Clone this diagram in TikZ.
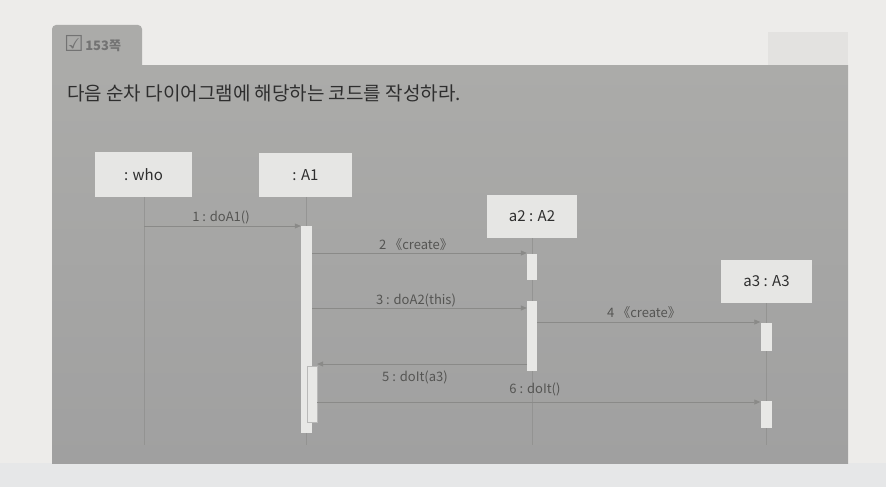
\documentclass[tikz,border=0pt]{standalone}
\usepackage{fontspec}
\setmainfont{Noto Sans CJK KR}
\newfontfamily\symfont{DejaVu Sans}
\usetikzlibrary{arrows.meta}
\definecolor{pagebg}{HTML}{EDECEA}
\definecolor{pagebot}{HTML}{E6E7E8}
\definecolor{paneltop}{HTML}{ABABA9}
\definecolor{panelbot}{HTML}{A0A0A0}
\definecolor{boxfill}{HTML}{E6E6E4}
\definecolor{barfill}{HTML}{E8E8E6}
\definecolor{linecol}{HTML}{8A8A88}
\definecolor{txtdark}{HTML}{2E2E2E}
\definecolor{txtmsg}{HTML}{555553}
\tikzset{
  objbox/.style={fill=boxfill, inner sep=0pt, text=txtdark, font=\fontsize{15}{17}\selectfont},
  actbar/.style={fill=barfill, inner sep=0pt, minimum width=10.5pt},
  lifeline/.style={draw=linecol, line width=0.5pt, opacity=0.6},
  msg/.style={draw=linecol, line width=0.6pt, -{Triangle[length=6pt,width=5pt]}},
  msglabel/.style={text=txtmsg, font=\fontsize{13}{15}\selectfont, inner sep=0pt}
}
\begin{document}
\begin{tikzpicture}[x=1pt,y=-1pt]
\useasboundingbox (0,0) rectangle (886,487);
% page
\fill[pagebg] (0,0) rectangle (886,487);
\fill[pagebot] (0,463) rectangle (886,487);
\fill[black, opacity=0.04] (768,32) rectangle (848,66);
% tab and panel
\fill[paneltop, rounded corners=4pt] (52,25) rectangle (142,90);
\shade[top color=paneltop, bottom color=panelbot] (52,66) rectangle (848,463);
% tab text
\node[anchor=west, inner sep=0pt, text=black!55] (tabicon) at (64,43) {\symfont\fontsize{22}{22}\selectfont ☑};
\node[anchor=west, inner sep=0pt, text=black!55, font=\fontsize{13}{15}\selectfont\bfseries] (tabtxt) at ([xshift=1pt,yshift=-3pt]tabicon.east) {153쪽};
% title
\node[anchor=west, inner sep=0pt, text=txtdark, font=\fontsize{19}{22}\selectfont] (title) at (67,93) {다음 순차 다이어그램에 해당하는 코드를 작성하라.};
% objects
\node[objbox, minimum width=97pt, minimum height=45pt] (who) at (143.5,174.5) {: who};
\node[objbox, minimum width=93pt, minimum height=44pt] (A1) at (305.5,175) {: A1};
\node[objbox, minimum width=90pt, minimum height=43pt] (a2) at (532,216.5) {a2 : A2};
\node[objbox, minimum width=91pt, minimum height=43pt] (a3) at (766.5,281.5) {a3 : A3};
% lifeline ends
\coordinate (whoend) at (144,445);
\coordinate (A1end) at (306,445);
\coordinate (a2end) at (532,445);
\coordinate (a3end) at (766,445);
\draw[lifeline] (who.south -| whoend) -- (whoend);
\draw[lifeline] (A1.south -| A1end) -- (A1end);
\draw[lifeline] (a2.south -| a2end) -- (a2end);
\draw[lifeline] (a3.south -| a3end) -- (a3end);
% activation bars
\node[actbar, minimum width=11pt, minimum height=207pt] (A1bar) at (306.5,329.5) {};
\node[actbar, minimum width=10pt, minimum height=56pt, draw=linecol!60, line width=0.3pt] (A1bar2) at (312,394) {};
\node[actbar, minimum width=10pt, minimum height=26pt] (a2bar1) at (532,267) {};
\node[actbar, minimum width=10pt, minimum height=70pt] (a2bar2) at (532,336) {};
\node[actbar, minimum width=11pt, minimum height=28pt] (a3bar1) at (766,337) {};
\node[actbar, minimum width=11pt, minimum height=27pt] (a3bar2) at (766,414.5) {};
% messages
\coordinate (m1s) at (144,226);
\draw[msg] (m1s) -- (m1s -| A1bar.west);
\coordinate (m2s) at (312,253);
\draw[msg] (m2s) -- (m2s -| a2bar1.west);
\coordinate (m3s) at (312,308);
\draw[msg] (m3s) -- (m3s -| a2bar2.west);
\coordinate (m4s) at (537,322);
\draw[msg] (m4s) -- (m4s -| a3bar1.west);
\coordinate (m5s) at (527,364);
\draw[msg] (m5s) -- (m5s -| A1bar2.east);
\coordinate (m6s) at (317,402);
\draw[msg] (m6s) -- (m6s -| a3bar2.west);
% labels
\node[msglabel] (l1) at (221,217) {1 : doA1()};
\node[msglabel] (l2) at (416,245) {2 《create》};
\node[msglabel] (l3) at (416,300) {3 : doA2(this)};
\node[msglabel] (l4) at (644,313) {4 《create》};
\node[msglabel] (l5) at (415,377) {5 : doIt(a3)};
\node[msglabel] (l6) at (535,389) {6 : doIt()};
\end{tikzpicture}
\end{document}
